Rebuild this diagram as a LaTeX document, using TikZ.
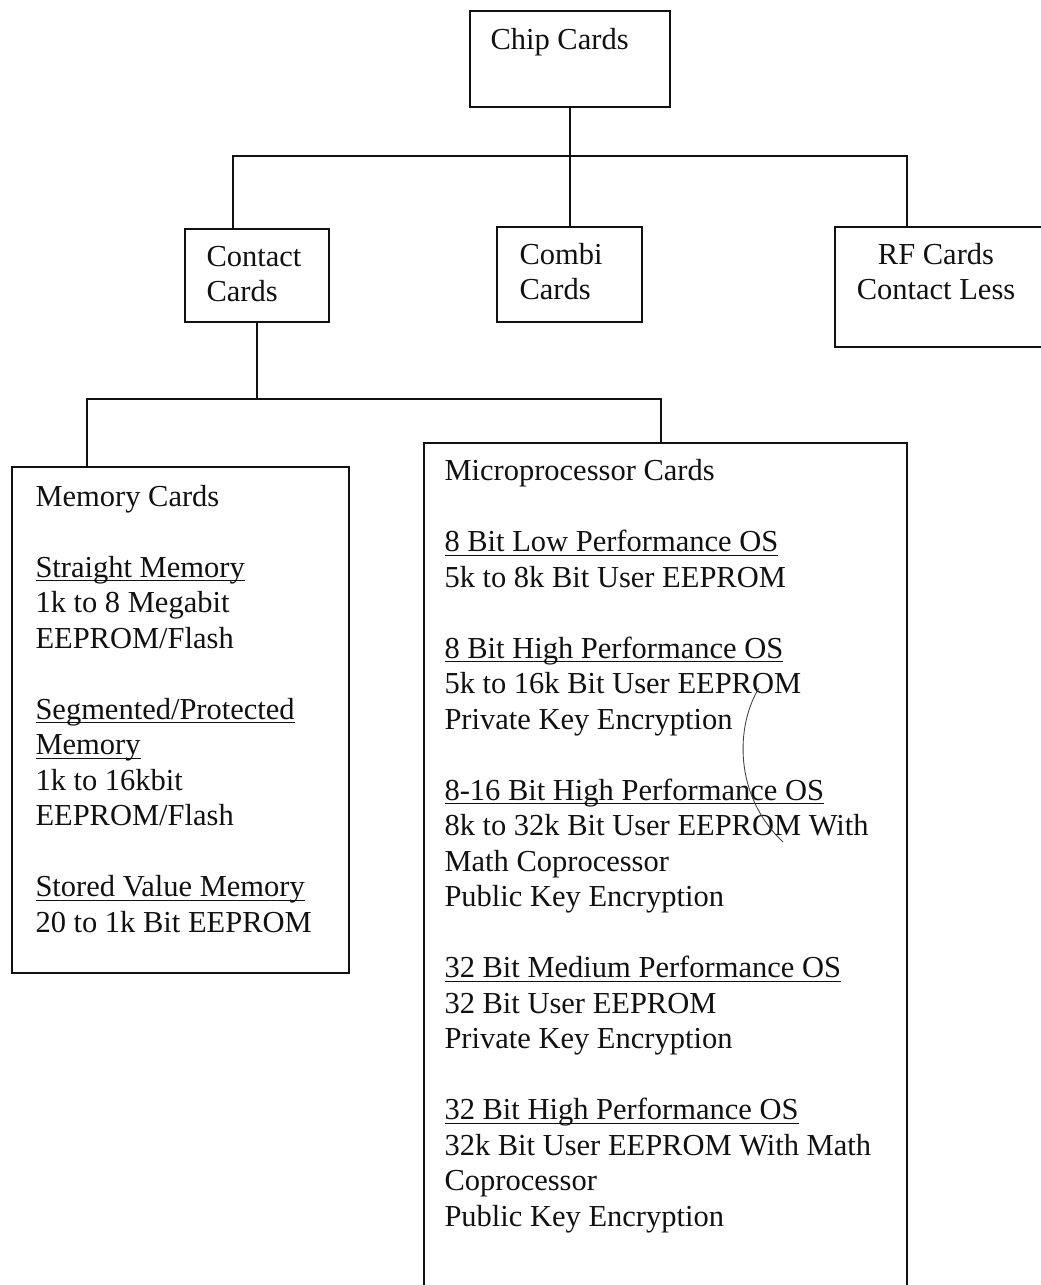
\documentclass[tikz,border=0pt]{standalone}
\usepackage{fontspec}
\setmainfont{Liberation Serif}
\usepackage{tikz}
\usetikzlibrary{calc,fit}
\definecolor{ink}{HTML}{111111}
\newcommand{\ulhead}[1]{\underline{\smash{#1}}}
\tikzset{
  cardbox/.style={draw=ink, line width=.8pt, inner sep=0pt},
  link/.style={draw=ink, line width=.8pt},
  lbl/.style={anchor=base west, inner sep=0pt, align=left, text=ink, font=\fontsize{12.2}{14.2}\selectfont},
  scribble/.style={draw=ink!80, line width=.35pt}
}

\begin{document}
\begin{tikzpicture}[x=.4pt,y=-.4pt]
  \useasboundingbox (0,0) rectangle (1040,1285);

  % boxes
  \node[cardbox,fit={(470,11) (670,107)}] (chip) {};
  \node[cardbox,fit={(185,229) (329,322)}] (contact) {};
  \node[cardbox,fit={(497,227) (642,322)}] (combi) {};
  \node[cardbox,fit={(835,227) (1050,347)}] (rf) {};
  \node[cardbox,fit={(12,467) (349,973)}] (memory) {};
  \node[cardbox,fit={(424,443) (907,1300)}] (micro) {};

  % labels (multi-line nodes sit on their last baseline)
  \node[lbl] (chip-t) at (490,50) {Chip Cards};
  \node[lbl] (contact-t) at (206,302) {Contact\\Cards};
  \node[lbl] (combi-t) at (519,300) {Combi\\Cards};
  \node[lbl,anchor=base,align=center] (rf-t) at (936,300) {RF Cards\\Contact Less};
  \node[lbl] (memory-t) at (35,932) {Memory Cards\\[14.2pt]
    \ulhead{Straight Memory}\\
    1k to 8 Megabit\\
    EEPROM/Flash\\[14.2pt]
    \ulhead{Segmented/Protected}\\
    \ulhead{Memory}\\
    1k to 16kbit\\
    EEPROM/Flash\\[14.2pt]
    \ulhead{Stored Value Memory}\\
    20 to 1k Bit EEPROM};
  \node[lbl] (micro-t) at (444,1226) {Microprocessor Cards\\[14.2pt]
    \ulhead{8 Bit Low Performance OS}\\
    5k to 8k Bit User EEPROM\\[14.2pt]
    \ulhead{8 Bit High Performance OS}\\
    5k to 16k Bit User EEPROM\\
    Private Key Encryption\\[14.2pt]
    \ulhead{8-16 Bit High Performance OS}\\
    8k to 32k Bit User EEPROM With\\
    Math Coprocessor\\
    Public Key Encryption\\[14.2pt]
    \ulhead{32 Bit Medium Performance OS}\\
    32 Bit User EEPROM\\
    Private Key Encryption\\[14.2pt]
    \ulhead{32 Bit High Performance OS}\\
    32k Bit User EEPROM With Math\\
    Coprocessor\\
    Public Key Encryption};

  % tree lines
  \coordinate (j1) at ($(chip.south)+(0,48)$);
  \draw[link] (chip.south) -- (chip.south |- combi.north);
  \draw[link] ($(contact.north west)+(49,0)$) |- (j1) -| ($(rf.north west)+(73,0)$);
  \coordinate (j2) at ($(contact.south)+(0,76)$);
  \draw[link] (contact.south) -- (j2);
  \draw[link] ($(memory.north west)+(76,0)$) |- (j2) -| ($(micro.north west)+(238,0)$);

  % stray pen mark
  \draw[scribble] (759,688) .. controls (736,725) and (733,795) .. (783,842);
\end{tikzpicture}
\end{document}
